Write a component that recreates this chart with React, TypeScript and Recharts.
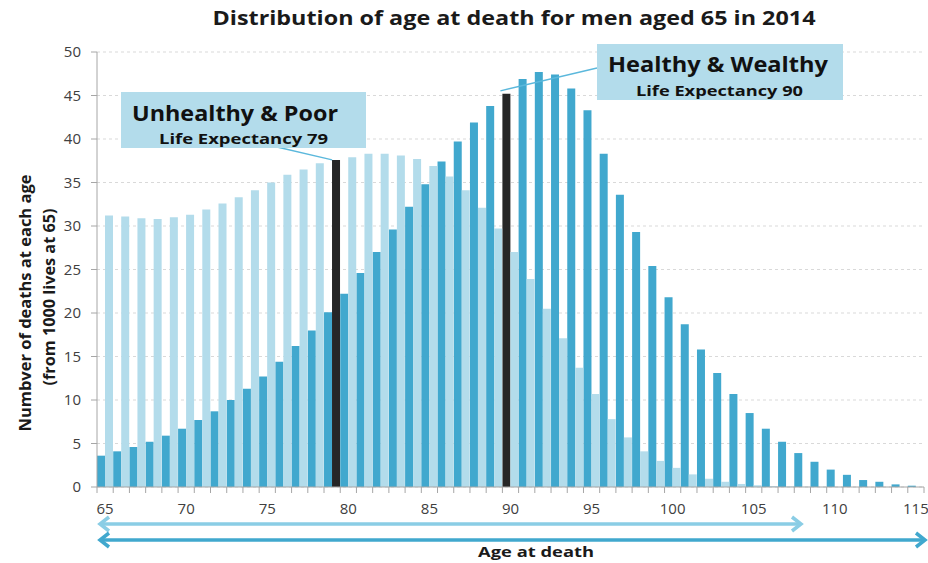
import React from 'react';
import { BarChart, Bar, Cell, XAxis, YAxis, CartesianGrid } from 'recharts';

// Distribution of age at death for men aged 65 (2014), per 1000 lives
const ages = [
  65, 66, 67, 68, 69, 70, 71, 72, 73, 74, 75, 76, 77, 78, 79, 80, 81,
  82, 83, 84, 85, 86, 87, 88, 89, 90, 91, 92, 93, 94, 95, 96, 97, 98,
  99, 100, 101, 102, 103, 104, 105, 106, 107, 108, 109, 110, 111, 112,
  113, 114, 115,
];

const healthyWealthy = [
  3.6, 4.1, 4.6, 5.2, 5.9, 6.7, 7.7, 8.7, 10.0, 11.3, 12.7, 14.4, 16.2, 18.0, 20.1,
  22.2, 24.6, 27.0, 29.6, 32.2, 34.8, 37.4, 39.7, 41.9, 43.8, 45.2,
  46.9, 47.7, 47.4, 45.8, 43.3, 38.3, 33.6, 29.3, 25.4, 21.8,
  18.7, 15.8, 13.1, 10.7, 8.5, 6.7, 5.2, 3.9, 2.9, 2.0, 1.4, 0.8, 0.6, 0.3, 0.15,
];

const unhealthyPoor = [
  31.2, 31.1, 30.9, 30.8, 31.0, 31.3, 31.9, 32.6, 33.3, 34.1, 35.0, 35.9, 36.5, 37.2, 37.6,
  37.9, 38.3, 38.3, 38.1, 37.7, 36.9, 35.7, 34.1, 32.1, 29.7, 27.0,
  23.9, 20.5, 17.1, 13.7, 10.7, 7.8, 5.7, 4.1, 3.0, 2.2,
  1.45, 0.95, 0.6, 0.35, 0.2, 0.1, 0.05, 0.02, 0, 0, 0, 0, 0, 0, 0,
];

const yTicks = [0, 5, 10, 15, 20, 25, 30, 35, 40, 45, 50];

const lifeExpPoor = 79;
const lifeExpWealthy = 90;

const data = ages.map((age, i) => ({
  age,
  healthy: healthyWealthy[i],
  unhealthy: unhealthyPoor[i],
}));

const W = 928;
const H = 563;
const margin = { top: 52, right: 4, bottom: 46, left: 37 };
const Y_AXIS_W = 60;
const X_AXIS_H = 30;
const plotLeft = margin.left + Y_AXIS_W;
const plotW = W - plotLeft - margin.right;
const plotH = H - margin.top - margin.bottom - X_AXIS_H;
const band = plotW / ages.length;
const FONT = '"Open Sans", "DejaVu Sans", sans-serif';

const DARK = '#41A8CE';
const LIGHT = '#B3DCEB';
const BLACK = '#262626';
const AXIS = '#A6A6A6';

// y position of a value, used only to hook the annotation leader lines
const yOf = (v: number) => margin.top + (1 - v / 50) * plotH;

function AgeTick(props: any) {
  const { x, y, payload } = props;
  const half = band / 2;
  const showLabel = (payload.value - 65) % 5 === 0;
  const last = payload.value === ages[ages.length - 1];
  return (
    <g>
      <line x1={x - half} y1={y} x2={x - half} y2={y + 6} stroke={AXIS} />
      {last && <line x1={x + half} y1={y} x2={x + half} y2={y + 6} stroke={AXIS} />}
      {showLabel && (
        <text x={x} y={y + 27} textAnchor="middle" fontSize={15} fill="#404040" fontFamily={FONT}>
          {payload.value}
        </text>
      )}
    </g>
  );
}

function Chevron({ x, y, dir, color }: { x: number; y: number; dir: 1 | -1; color: string }) {
  return (
    <polyline
      points={`${x - dir * 9},${y - 7} ${x},${y} ${x - dir * 9},${y + 7}`}
      fill="none"
      stroke={color}
      strokeWidth={3.5}
      strokeLinejoin="miter"
    />
  );
}

export default function App() {
  const poorIdx = ages.indexOf(lifeExpPoor);
  const richIdx = ages.indexOf(lifeExpWealthy);
  const poorX = plotLeft + poorIdx * band + band / 2;
  const richX = plotLeft + richIdx * band;

  return (
    <div style={{ position: 'absolute', left: 0, top: 0, width: W, height: H, background: '#fff' }}>
      <BarChart width={W} height={H} data={data} margin={margin} barCategoryGap={0} barGap={0}>
        <CartesianGrid vertical={false} stroke="#D9D9D9" strokeDasharray="3 3" />
        <XAxis
          dataKey="age"
          height={X_AXIS_H}
          interval={0}
          tickSize={0}
          tickMargin={0}
          tickLine={false}
          axisLine={{ stroke: AXIS }}
          tick={<AgeTick />}
        />
        <YAxis
          width={Y_AXIS_W}
          domain={[0, 50]}
          ticks={yTicks}
          interval={0}
          tickMargin={10}
          tickLine={{ stroke: AXIS }}
          axisLine={{ stroke: AXIS }}
          tick={{ fontSize: 15, fill: '#404040', fontFamily: FONT }}
        />
        <Bar dataKey="healthy" fill={DARK} isAnimationActive={false}>
          {data.map((d) => (
            <Cell key={`h-${d.age}`} fill={d.age === lifeExpWealthy ? BLACK : DARK} />
          ))}
        </Bar>
        <Bar dataKey="unhealthy" fill={LIGHT} isAnimationActive={false}>
          {data.map((d) => (
            <Cell key={`u-${d.age}`} fill={d.age === lifeExpPoor ? BLACK : LIGHT} />
          ))}
        </Bar>
      </BarChart>

      <svg
        width={W}
        height={H}
        style={{ position: 'absolute', left: 0, top: 0, pointerEvents: 'none' }}
        fontFamily={FONT}
      >
        <text x={514} y={25} textAnchor="middle" fontSize={20} fontWeight="bold" fill="#1a1a1a"
          textLength={603} lengthAdjust="spacingAndGlyphs">
          Distribution of age at death for men aged 65 in 2014
        </text>

        <g transform="translate(31, 303) rotate(-90)">
          <text x={0} y={0} textAnchor="middle" fontSize={16} fontWeight="bold" fill="#1a1a1a"
            textLength={257} lengthAdjust="spacingAndGlyphs">
            Numbver of deaths at each age
          </text>
        </g>
        <g transform="translate(55, 297) rotate(-90)">
          <text x={0} y={0} textAnchor="middle" fontSize={16} fontWeight="bold" fill="#1a1a1a"
            textLength={177} lengthAdjust="spacingAndGlyphs">
            (from 1000 lives at 65)
          </text>
        </g>

        {/* Unhealthy & Poor annotation */}
        <line x1={277} y1={147} x2={poorX} y2={yOf(unhealthyPoor[poorIdx])} stroke="#5BB8DC" strokeWidth={1.3} />
        <rect x={121} y={92} width={245} height={56} fill={LIGHT} />
        <text x={132} y={121} fontSize={21} fontWeight="bold" fill="#111"
          textLength={206} lengthAdjust="spacingAndGlyphs">
          Unhealthy &amp; Poor
        </text>
        <text x={159} y={144} fontSize={15} fontWeight="bold" fill="#111"
          textLength={169} lengthAdjust="spacingAndGlyphs">
          Life Expectancy 79
        </text>

        {/* Healthy & Wealthy annotation */}
        <line x1={richX - 2} y1={yOf(healthyWealthy[richIdx]) - 3} x2={597} y2={68} stroke="#5BB8DC" strokeWidth={1.3} />
        <rect x={597} y={44} width={246} height={56} fill={LIGHT} />
        <text x={608} y={72} fontSize={21} fontWeight="bold" fill="#111"
          textLength={220} lengthAdjust="spacingAndGlyphs">
          Healthy &amp; Wealthy
        </text>
        <text x={636} y={96} fontSize={15} fontWeight="bold" fill="#111"
          textLength={167} lengthAdjust="spacingAndGlyphs">
          Life Expectancy 90
        </text>

        {/* age range arrows */}
        <line x1={100} y1={524} x2={801} y2={524} stroke="#8ACDE5" strokeWidth={3.5} />
        <Chevron x={100} y={524} dir={-1} color="#8ACDE5" />
        <Chevron x={801} y={524} dir={1} color="#8ACDE5" />
        <line x1={100} y1={540} x2={925} y2={540} stroke={DARK} strokeWidth={3.5} />
        <Chevron x={100} y={540} dir={-1} color={DARK} />
        <Chevron x={925} y={540} dir={1} color={DARK} />

        <text x={536} y={557} textAnchor="middle" fontSize={15} fontWeight="bold" fill="#1a1a1a"
          textLength={116} lengthAdjust="spacingAndGlyphs">
          Age at death
        </text>
      </svg>
    </div>
  );
}
